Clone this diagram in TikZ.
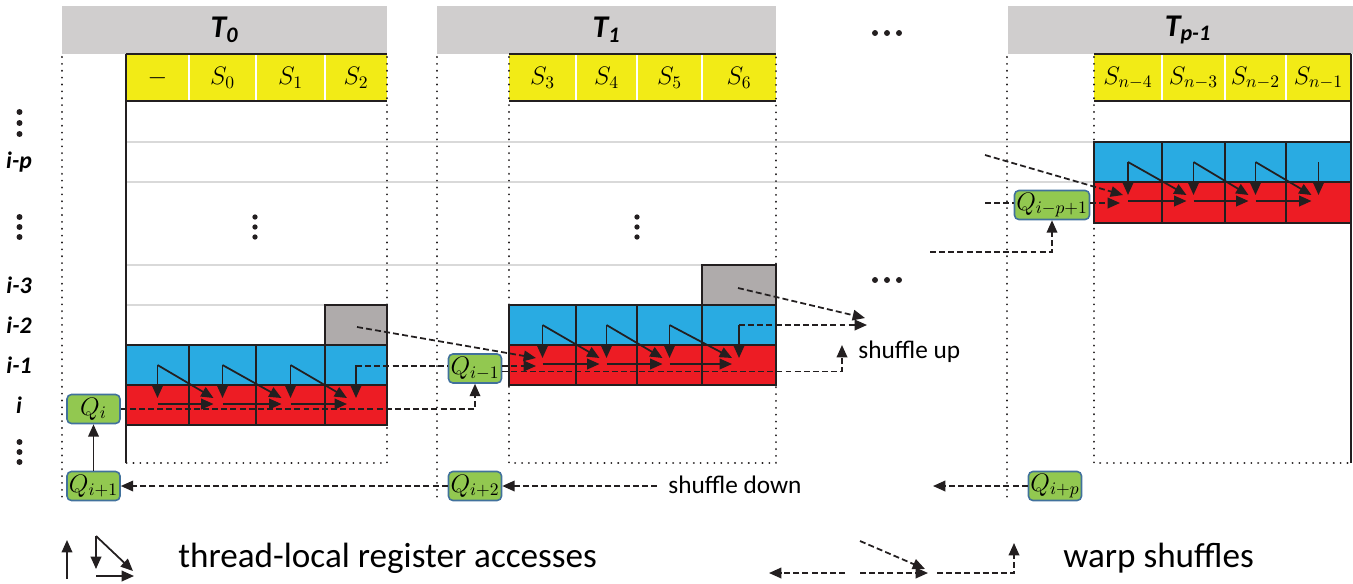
\documentclass[tikz,border=0pt]{standalone}
\usepackage{fontspec}
\setmainfont{Carlito}
\usetikzlibrary{arrows.meta}
\definecolor{hdrgray}{RGB}{208,206,206}
\definecolor{regyellow}{RGB}{242,235,22}
\definecolor{regblue}{RGB}{41,171,226}
\definecolor{regred}{RGB}{237,28,36}
\definecolor{oldgray}{RGB}{175,171,171}
\definecolor{qgreen}{RGB}{146,200,80}
\definecolor{qframe}{RGB}{65,113,156}
\definecolor{rowline}{RGB}{217,217,217}
\definecolor{ink}{RGB}{35,31,32}

\tikzset{
  access/.style={ink, line width=1pt, -{Triangle[length=7pt,width=6pt]}},
  shuffle/.style={ink, line width=1pt, dash pattern=on 3.4pt off 1.8pt, -{Triangle[length=7pt,width=6pt]}},
  shufflebare/.style={ink, line width=1pt, dash pattern=on 3.4pt off 1.8pt},
  lanesep/.style={ink, line width=1.2pt, dash pattern=on 0.01pt off 3.9pt, line cap=round},
  cellbox/.style={draw=ink, line width=1.1pt},
  qbox/.style={draw=qframe, fill=qgreen, line width=0.9pt, rounded corners=2.5pt,
    minimum width=1.06cm, minimum height=0.58cm, inner sep=1pt,
    font=\fontsize{14.5}{16}\selectfont},
  reglab/.style={font=\fontsize{14.5}{16}\selectfont},
  rowlab/.style={font=\fontsize{13.5}{16}\selectfont\bfseries\itshape},
  thrlab/.style={font=\fontsize{18}{20}\selectfont\bfseries\itshape},
  notelab/.style={anchor=west, inner sep=0pt, font=\fontsize{14.4}{17}\selectfont},
  keylab/.style={anchor=west, inner sep=0pt, font=\fontsize{20}{23}\selectfont},
}

\begin{document}
\begin{tikzpicture}[x=0.02cm, y=-0.02cm]
\useasboundingbox (0,0) rectangle (1353,583);

% row guide lines
\draw[rowline, line width=1pt] (126,142) -- (1094,142) (126,182) -- (1094,182)
  (126,265) -- (702,265) (126,305) -- (325,305);

% thread headers
\fill[hdrgray] (62,6) rectangle (387,54);
\fill[hdrgray] (437,6) rectangle (776,54);
\fill[hdrgray] (1008,6) rectangle (1353,54);
\node[thrlab] (t0) at (224.5,30) {T\textsubscript{0}};
\node[thrlab] (t1) at (606.5,30) {T\textsubscript{1}};
\node[thrlab] (tp) at (1188,30) {T\textsubscript{p-1}};

% register names
\fill[regyellow] (126,54) rectangle (387,101);
\fill[regyellow] (509,54) rectangle (776,101);
\fill[regyellow] (1094,54) rectangle (1351,101);
\foreach \x in {189,256,325,576,637,702,1162,1225,1286}
  \draw[white, line width=1pt] (\x,54) -- (\x,101);
\draw[ink, line width=1.1pt] (126,54) -- (387,54) (126,101) -- (387,101)
  (509,54) -- (776,54) (509,101) -- (776,101)
  (1094,54) -- (1351,54) (1094,101) -- (1351,101);
\foreach \xa/\xb/\s [count=\k] in {126/189/-, 189/256/S_0, 256/325/S_1, 325/387/S_2}
  \node[reglab] (t0s\k) at ({(\xa+\xb)/2},78) {$\s$};
\foreach \xa/\xb/\s [count=\k] in {509/576/S_3, 576/637/S_4, 637/702/S_5, 702/776/S_6}
  \node[reglab] (t1s\k) at ({(\xa+\xb)/2},78) {$\s$};
\foreach \xa/\xb/\s [count=\k] in {1094/1162/S_{n-4}, 1162/1225/S_{n-3}, 1225/1286/S_{n-2}, 1286/1351/S_{n-1}}
  \node[reglab] (tps\k) at ({(\xa+\xb)/2},78) {$\s$};

% lanes
\foreach \x in {62,437,1007} \draw[lanesep] (\x,57) -- (\x,503);
\draw[lanesep] (387,57) -- (387,463) -- (126,463);
\draw[lanesep] (509,57) -- (509,463) -- (776,463) -- (776,57);
\draw[lanesep] (1094,57) -- (1094,463) -- (1351,463);
\draw[ink, line width=1.1pt] (126,54) -- (126,463);
\draw[ink, line width=1.1pt] (1351,54) -- (1351,463);

% row numbers
\foreach \y/\r [count=\k] in {162/i-p, 285/i-3, 325/i-2, 365/i-1, 405/i}
  \node[rowlab] (row\k) at (19,\y) {\r};
\foreach \y in {112,123,134, 217,227,237, 442,452,462} \fill[ink] (19.5,\y) circle (1.7pt);
\foreach \y in {217,227,237} \fill[ink] (255,\y) circle (1.5pt) (637,\y) circle (1.5pt);
\foreach \x in {875,887,899} \fill[ink] (\x,33) circle (1.7pt) (\x,280) circle (1.7pt);

% T0 rows i-1 and i
\foreach \xa/\xb in {126/189, 189/256, 256/325, 325/387} {
  \filldraw[cellbox, fill=regblue] (\xa,345) rectangle (\xb,385);
  \filldraw[cellbox, fill=regred] (\xa,385) rectangle (\xb,425);
}
\filldraw[cellbox, fill=oldgray] (325,305) rectangle (387,345);
\foreach \m/\n in {157.5/222.5, 222.5/290.5, 290.5/356} {
  \draw[access] (\m,365) -- (\m,398);
  \draw[access] (\m,365) -- (\n-9,398);
  \draw[access] (\m,404) -- (\n-9,404);
}
\draw[access] (356,365) -- (356,398);

% T1 rows i-2 and i-1
\foreach \xa/\xb in {509/576, 576/637, 637/702, 702/776} {
  \filldraw[cellbox, fill=regblue] (\xa,305) rectangle (\xb,345);
  \filldraw[cellbox, fill=regred] (\xa,345) rectangle (\xb,385);
}
\filldraw[cellbox, fill=oldgray] (702,265) rectangle (776,305);
\foreach \m/\n in {542.5/606.5, 606.5/669.5, 669.5/739} {
  \draw[access] (\m,325) -- (\m,358);
  \draw[access] (\m,325) -- (\n-7,358);
  \draw[access] (\m,364) -- (\n-7,364);
}
\draw[access] (739,325) -- (739,358);

% Tp-1 rows i-p and i-p+1
\foreach \xa/\xb in {1094/1162, 1162/1225, 1225/1286, 1286/1351} {
  \filldraw[cellbox, fill=regblue] (\xa,142) rectangle (\xb,182);
  \filldraw[cellbox, fill=regred] (\xa,182) rectangle (\xb,223);
}
\foreach \m/\n in {1128/1193.5, 1193.5/1255.5, 1255.5/1318.5} {
  \draw[access] (\m,162) -- (\m,195);
  \draw[access] (\m,162) -- (\n-7,195);
  \draw[access] (\m,201) -- (\n-7,201);
}
\draw[access] (1318.5,162) -- (1318.5,195);

% shuffled values
\node[qbox] (qi) at (93.5,409) {$Q_i$};
\node[qbox] (qip1) at (93.5,486) {$Q_{i+1}$};
\node[qbox] (qim1) at (475,368.5) {$Q_{i-1}$};
\node[qbox] (qip2) at (475,486) {$Q_{i+2}$};
\node[qbox] (qipp) at (1055,486) {$Q_{i+p}$};
\node[qbox] (qipm) at (1052,205) {$Q_{i-p+1}$};

\coordinate (t0up) at (356,366);
\coordinate (t0old) at (357,327);
\coordinate (t1in) at (536,366);
\coordinate (t1diag) at (536,358);
\coordinate (t1up) at (739,325);
\coordinate (t1old) at (738,288);
\coordinate (nextup) at (867,325);
\coordinate (nextdiag) at (865,318);
\coordinate (upend) at (842,345);
\coordinate (prevdiag) at (985,155);
\coordinate (previn) at (985,203);
\coordinate (prevup) at (930,252);
\coordinate (tpdiag) at (1123,195);
\coordinate (tpin) at (1120,203);
\coordinate (downin) at (657,486);
\coordinate (downout) at (933,486);

\draw[shufflebare] (t0up) -- (t0up -| qim1.west);
\draw[shuffle] (t0up -| qim1.east) -- (t1in);
\draw[shuffle] (t0old) -- (t1diag);
\draw[shuffle] (qi.east) -| (qim1.south);
\draw[shuffle] (t1up) -- (nextup);
\draw[shuffle] (t1old) -- (nextdiag);
\draw[shuffle] ([yshift=-1.7pt]qim1.east) -| (upend);
\draw[shuffle] (prevdiag) -- (tpdiag);
\draw[shufflebare] (previn) -- (previn -| qipm.west);
\draw[shuffle] (previn -| qipm.east) -- (tpin);
\draw[shuffle] (prevup) -| (qipm.south);
\draw[access] (qip1.north) -- (qi.south);
\draw[shuffle] (qip2.west) -- (qip1.east);
\draw[shuffle] (downin) -- (qip2.east);
\draw[shuffle] (qipp.west) -- (downout);
\node[notelab] (uplab) at (858,352) {shuffle up};
\node[notelab] (downlab) at (668,485) {shuffle down};

% legend
\draw[access] (67,579) -- (67,540);
\draw[access] (96,536) -- (96,569);
\draw[access] (96,536) -- (133,571);
\draw[access] (96,576) -- (134,576);
\node[keylab] (keyreg) at (178,558) {thread-local register accesses};
\draw[shuffle] (845,573) -- (769,573);
\draw[shuffle] (860,573) -- (928,573);
\draw[shuffle] (860,541) -- (925,569);
\draw[shuffle] (937,573) -| (1014,543);
\node[keylab] (keyshfl) at (1063,558) {warp shuffles};
\end{tikzpicture}
\end{document}
